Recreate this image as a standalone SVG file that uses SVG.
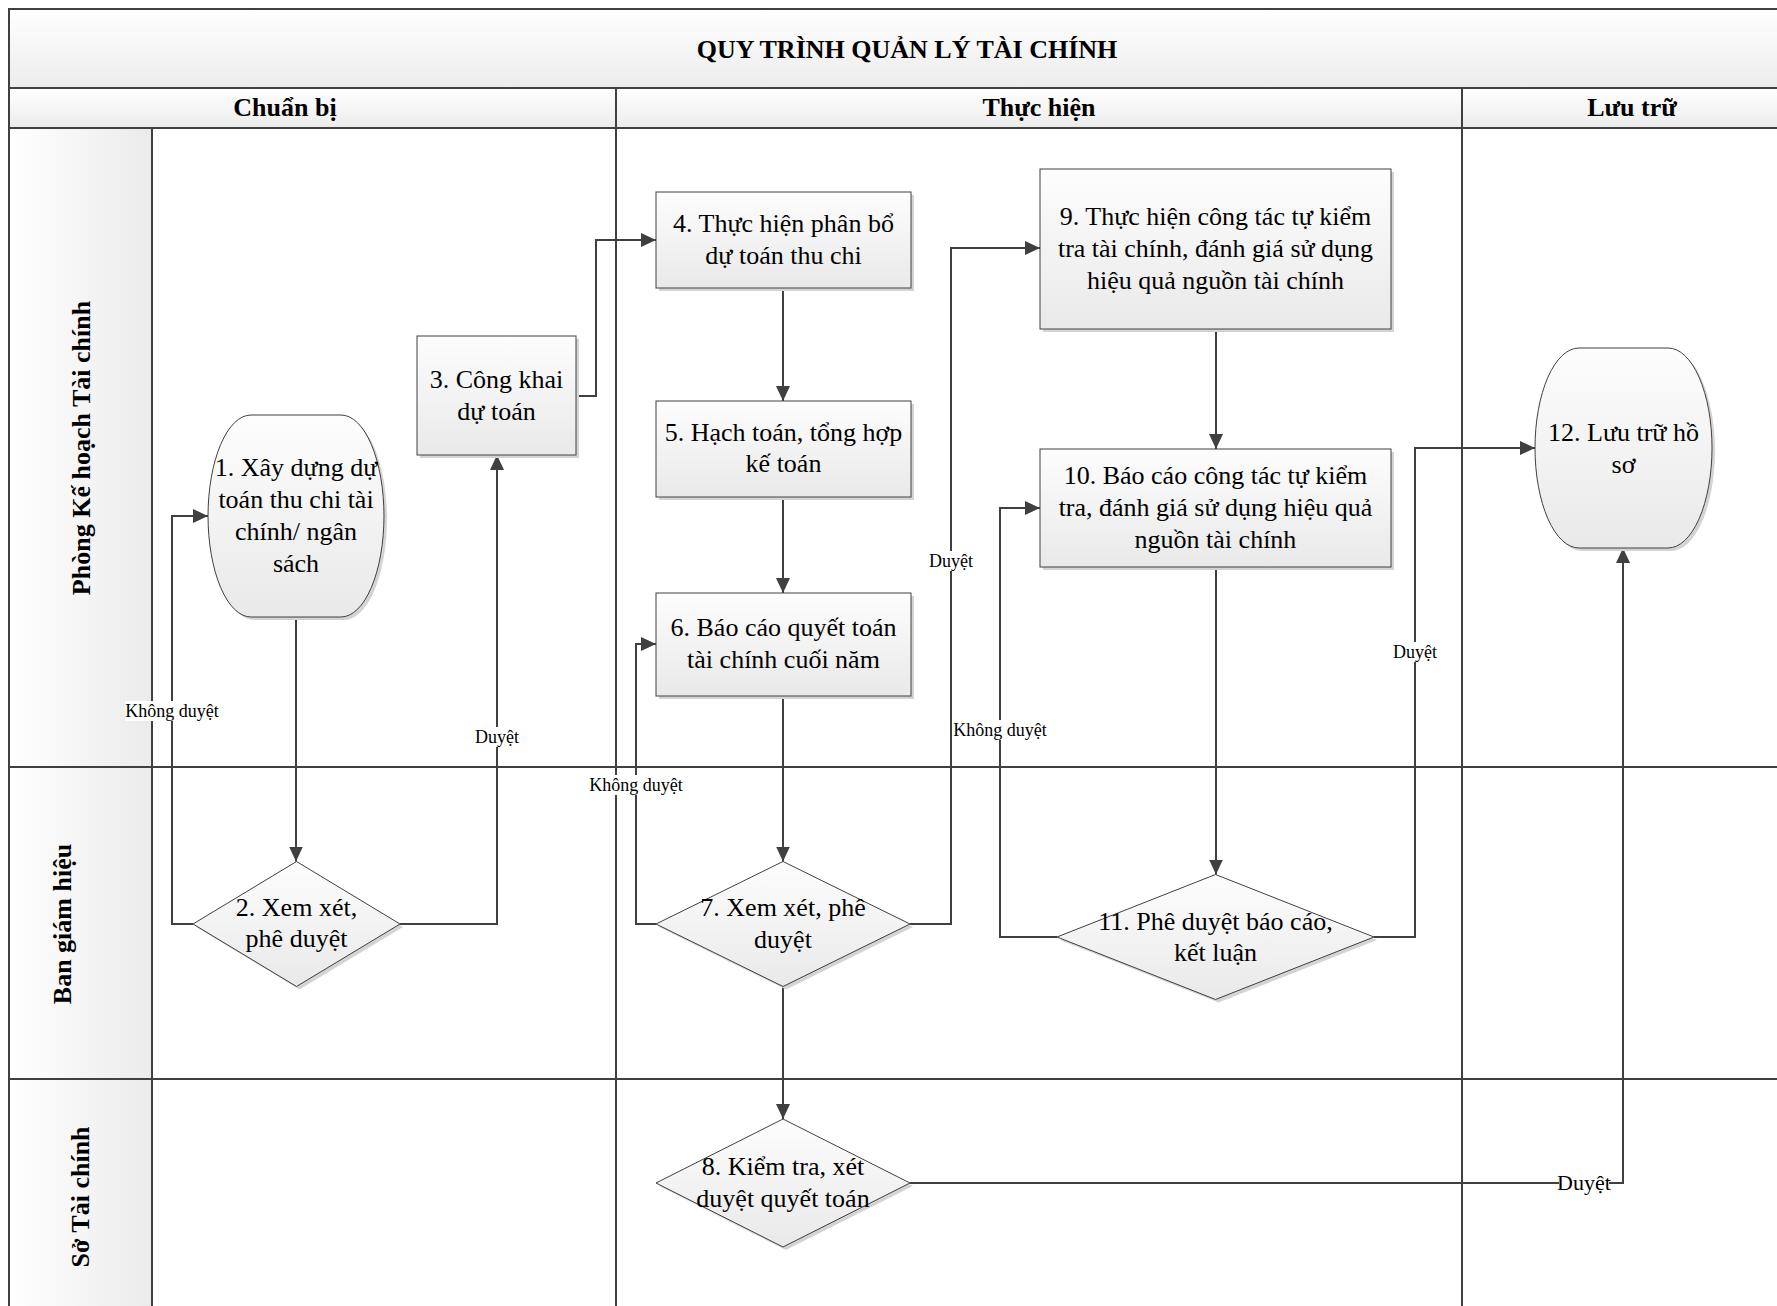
<svg xmlns="http://www.w3.org/2000/svg" width="1777" height="1306" viewBox="0 0 1777 1306">
<defs>
  <linearGradient id="gv" x1="0" y1="0" x2="0" y2="1">
    <stop offset="0" stop-color="#ffffff"/>
    <stop offset="1" stop-color="#ececec"/>
  </linearGradient>
  <linearGradient id="gh" x1="0" y1="0" x2="1" y2="0">
    <stop offset="0" stop-color="#ffffff"/>
    <stop offset="1" stop-color="#ebebeb"/>
  </linearGradient>
  <linearGradient id="gn" x1="0" y1="0" x2="0" y2="1">
    <stop offset="0" stop-color="#fdfdfd"/>
    <stop offset="1" stop-color="#e9e9e9"/>
  </linearGradient>
  <marker id="arr" markerUnits="userSpaceOnUse" markerWidth="16" markerHeight="14" refX="15" refY="7" orient="auto">
    <path d="M0,0 L15,7 L0,14 Z" fill="#404040"/>
  </marker>
</defs>
<style>
  .ln { stroke:#404040; stroke-width:2; fill:none }
  .node { fill:url(#gn); stroke:#404040; stroke-width:1 }
  .sh { fill:#d4d4d4 }
  .t { font-family:"Liberation Serif","Times New Roman",serif; font-size:26px; fill:#000; text-anchor:middle }
  .b { font-weight:bold }
  .lbl { font-family:"Liberation Serif","Times New Roman",serif; font-size:18px; fill:#000; text-anchor:middle }
  .lbg { fill:#ffffff }
  .conn { stroke:#404040; stroke-width:2; fill:none; marker-end:url(#arr) }
</style>
<rect x="0" y="0" width="1777" height="1306" fill="#ffffff"/>

<g id="frame">
  <rect x="9" y="9" width="1796" height="79" fill="url(#gv)"/>
  <rect x="9" y="88" width="1796" height="40" fill="url(#gv)"/>
  <rect x="9" y="128" width="143" height="1200" fill="url(#gh)"/>
  <path class="ln" d="M9,1330 V9 H1805 M9,88 H1805 M9,128 H1805 M152,128 V1330 M616,88 V1330 M1462,88 V1330 M9,767 H1805 M9,1079 H1805"/>
  <text class="t b" x="907" y="58">QUY TRÌNH QUẢN LÝ TÀI CHÍNH</text>
  <text class="t b" x="285" y="116">Chuẩn bị</text>
  <text class="t b" x="1039" y="116">Thực hiện</text>
  <text class="t b" x="1632" y="116">Lưu trữ</text>
</g>

<g id="lanes">
  <text class="t b" transform="translate(90,448) rotate(-90)">Phòng Kế hoạch Tài chính</text>
  <text class="t b" transform="translate(71,924) rotate(-90)">Ban giám hiệu</text>
  <text class="t b" transform="translate(89,1197) rotate(-90)">Sở Tài chính</text>
</g>

<g id="connectors">
  <path class="conn" d="M296,617 V861.5"/>
  <path class="conn" d="M193,924 H172 V516 H208"/>
  <path class="conn" d="M400,924 H497 V455"/>
  <path class="conn" d="M576,396 H596 V240 H656"/>
  <path class="conn" d="M783,288 V401"/>
  <path class="conn" d="M783,497 V593"/>
  <path class="conn" d="M783,696 V861.5"/>
  <path class="conn" d="M656,924 H636 V644 H656"/>
  <path class="conn" d="M910,924 H951 V248 H1040"/>
  <path class="conn" d="M783,986.5 V1119"/>
  <path class="conn" d="M1216,329 V449"/>
  <path class="conn" d="M1216,567 V874.5"/>
  <path class="conn" d="M1057,937 H1000 V508 H1040"/>
  <path class="conn" d="M1374,937 H1415 V448 H1535"/>
  <path class="conn" d="M910,1183 H1623 V548"/>
  <g id="labels">
    <rect class="lbg" x="125" y="701" width="94" height="20"/>
    <text class="lbl" x="172" y="717">Không duyệt</text>
    <rect class="lbg" x="477" y="727" width="40" height="20"/>
    <text class="lbl" x="497" y="743">Duyệt</text>
    <rect class="lbg" x="589" y="775" width="94" height="20"/>
    <text class="lbl" x="636" y="791">Không duyệt</text>
    <rect class="lbg" x="931" y="551" width="40" height="20"/>
    <text class="lbl" x="951" y="567">Duyệt</text>
    <rect class="lbg" x="953" y="720" width="94" height="20"/>
    <text class="lbl" x="1000" y="736">Không duyệt</text>
    <rect class="lbg" x="1395" y="642" width="40" height="20"/>
    <text class="lbl" x="1415" y="658">Duyệt</text>
    <rect class="lbg" x="1559" y="1171" width="50" height="24"/>
    <text class="lbl" x="1584" y="1190" style="font-size:22px">Duyệt</text>
  </g>
</g>

<g id="n1">
  <path class="sh" transform="translate(3,3)" d="M251,415 H341 A43,101 0 0 1 341,617 H251 A43,101 0 0 1 251,415 Z"/>
  <path class="node" d="M251,415 H341 A43,101 0 0 1 341,617 H251 A43,101 0 0 1 251,415 Z"/>
  <text class="t" x="296" y="476">1. Xây dựng dự</text>
  <text class="t" x="296" y="508">toán thu chi tài</text>
  <text class="t" x="296" y="540">chính/ ngân</text>
  <text class="t" x="296" y="572">sách</text>
</g>

<g id="n2">
  <polygon class="sh" transform="translate(3,3)" points="193,924 296.5,861.5 400,924 296.5,986.5"/>
  <polygon class="node" points="193,924 296.5,861.5 400,924 296.5,986.5"/>
  <text class="t" x="296.5" y="916">2. Xem xét,</text>
  <text class="t" x="296.5" y="947">phê duyệt</text>
</g>

<g id="n3">
  <rect class="sh" x="420" y="339" width="159" height="119"/>
  <rect class="node" x="417" y="336" width="159" height="119"/>
  <text class="t" x="496.5" y="388">3. Công khai</text>
  <text class="t" x="496.5" y="420">dự toán</text>
</g>

<g id="n4">
  <rect class="sh" x="659" y="195" width="255" height="96"/>
  <rect class="node" x="656" y="192" width="255" height="96"/>
  <text class="t" x="783.5" y="232">4. Thực hiện phân bổ</text>
  <text class="t" x="783.5" y="264">dự toán thu chi</text>
</g>

<g id="n5">
  <rect class="sh" x="659" y="404" width="255" height="96"/>
  <rect class="node" x="656" y="401" width="255" height="96"/>
  <text class="t" x="783.5" y="441">5. Hạch toán, tổng hợp</text>
  <text class="t" x="783.5" y="472">kế toán</text>
</g>

<g id="n6">
  <rect class="sh" x="659" y="596" width="255" height="103"/>
  <rect class="node" x="656" y="593" width="255" height="103"/>
  <text class="t" x="783.5" y="636">6. Báo cáo quyết toán</text>
  <text class="t" x="783.5" y="668">tài chính cuối năm</text>
</g>

<g id="n7">
  <polygon class="sh" transform="translate(3,3)" points="656,924 783,861.5 910,924 783,986.5"/>
  <polygon class="node" points="656,924 783,861.5 910,924 783,986.5"/>
  <text class="t" x="783" y="916">7. Xem xét, phê</text>
  <text class="t" x="783" y="948">duyệt</text>
</g>

<g id="n8">
  <polygon class="sh" transform="translate(3,3)" points="656,1183 783,1119 910,1183 783,1247"/>
  <polygon class="node" points="656,1183 783,1119 910,1183 783,1247"/>
  <text class="t" x="783" y="1175">8. Kiểm tra, xét</text>
  <text class="t" x="783" y="1207">duyệt quyết toán</text>
</g>

<g id="n9">
  <rect class="sh" x="1043" y="172" width="351" height="160"/>
  <rect class="node" x="1040" y="169" width="351" height="160"/>
  <text class="t" x="1215.5" y="225">9. Thực hiện công tác tự kiểm</text>
  <text class="t" x="1215.5" y="257">tra tài chính, đánh giá sử dụng</text>
  <text class="t" x="1215.5" y="289">hiệu quả nguồn tài chính</text>
</g>

<g id="n10">
  <rect class="sh" x="1043" y="452" width="351" height="118"/>
  <rect class="node" x="1040" y="449" width="351" height="118"/>
  <text class="t" x="1215.5" y="484">10. Báo cáo công tác tự kiểm</text>
  <text class="t" x="1215.5" y="516">tra, đánh giá sử dụng hiệu quả</text>
  <text class="t" x="1215.5" y="548">nguồn tài chính</text>
</g>

<g id="n11">
  <polygon class="sh" transform="translate(3,3)" points="1057,937 1215.5,874.5 1374,937 1215.5,999.5"/>
  <polygon class="node" points="1057,937 1215.5,874.5 1374,937 1215.5,999.5"/>
  <text class="t" x="1215.5" y="930">11. Phê duyệt báo cáo,</text>
  <text class="t" x="1215.5" y="961">kết luận</text>
</g>

<g id="n12">
  <path class="sh" transform="translate(3,3)" d="M1579,348 H1668 A44,100 0 0 1 1668,548 H1579 A44,100 0 0 1 1579,348 Z"/>
  <path class="node" d="M1579,348 H1668 A44,100 0 0 1 1668,548 H1579 A44,100 0 0 1 1579,348 Z"/>
  <text class="t" x="1623.5" y="441">12. Lưu trữ hồ</text>
  <text class="t" x="1623.5" y="473">sơ</text>
</g>
</svg>
